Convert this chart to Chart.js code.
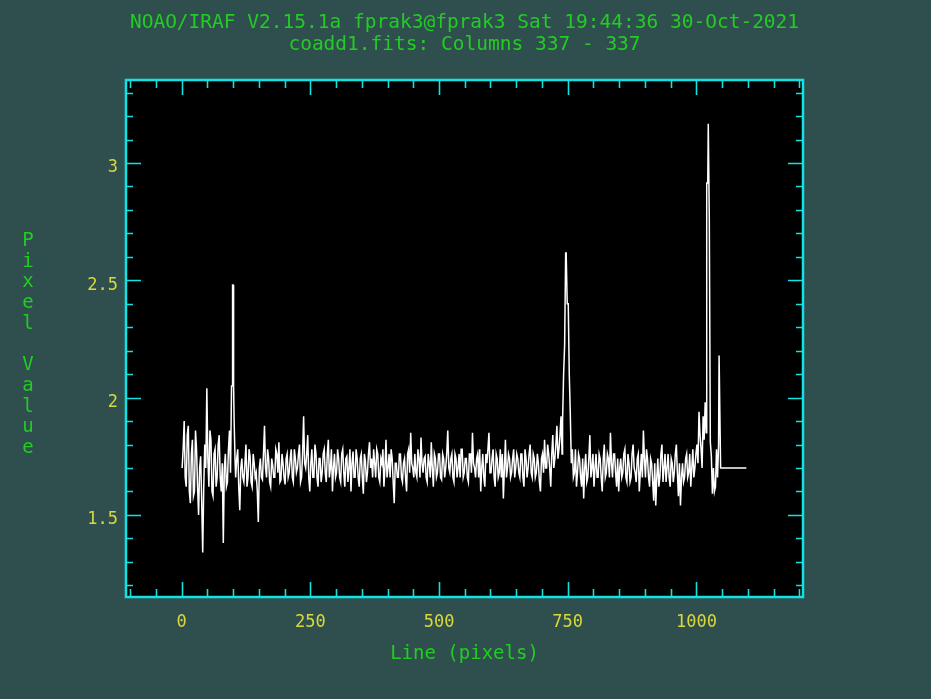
<!DOCTYPE html>
<html>
<head>
<meta charset="utf-8">
<script src="https://cdn.jsdelivr.net/npm/chart.js@4.4.0/dist/chart.umd.min.js"></script>
<style>
  html, body { margin: 0; padding: 0; background: #2f4f4f; overflow: hidden; }
  canvas { display: block; }
</style>
</head>
<body>
<canvas id="c" width="931" height="699"></canvas>
<script>
// ---- Data ----
const titleLines = ["NOAO/IRAF V2.15.1a fprak3@fprak3 Sat 19:44:36 30-Oct-2021", "coadd1.fits: Columns 337 - 337"];
const xAxisTitle = "Line (pixels)";
const yAxisTitle = "Pixel Value";

const xTickValues = [0, 250, 500, 750, 1000];
const xTickLabels = ["0", "250", "500", "750", "1000"];
const yTickValues = [1.5, 2, 2.5, 3];
const yTickLabels = ["1.5", "2", "2.5", "3"];

// samples A: line numbers 1, 5, 9, ... 1013
const linesAStart = 1;
// samples B: line numbers 3, 7, 11, ... 1015
const linesBStart = 3;
const lineStep = 4;

const valuesA = [
  1.70,1.90,1.62,1.88,1.55,1.82,1.60,1.78,1.50,1.75,
  1.34,1.80,2.04,1.62,1.82,1.58,1.78,1.66,1.84,1.60,
  1.38,1.76,1.64,1.86,1.70,1.70,1.66,1.78,1.52,1.74,
  1.64,1.80,1.66,1.75,1.62,1.72,1.68,1.47,1.74,1.65,
  1.88,1.66,1.74,1.62,1.71,1.66,1.76,1.81,1.65,1.72,
  1.63,1.76,1.68,1.78,1.64,1.74,1.70,1.80,1.66,1.92,
  1.70,1.84,1.60,1.78,1.66,1.76,1.62,1.74,1.68,1.78,
  1.64,1.82,1.70,1.60,1.76,1.68,1.74,1.64,1.78,1.62,
  1.75,1.70,1.60,1.77,1.66,1.74,1.62,1.76,1.59,1.73,
  1.68,1.81,1.74,1.78,1.66,1.76,1.64,1.72,1.62,1.82,
  1.70,1.66,1.74,1.55,1.72,1.66,1.76,1.64,1.74,1.60,
  1.78,1.85,1.70,1.76,1.66,1.74,1.83,1.68,1.75,1.64,
  1.72,1.81,1.62,1.74,1.68,1.76,1.65,1.74,1.70,1.86,
  1.68,1.76,1.64,1.74,1.70,1.66,1.78,1.68,1.74,1.64,
  1.76,1.85,1.70,1.74,1.66,1.60,1.76,1.62,1.72,1.85,
  1.68,1.78,1.62,1.74,1.68,1.66,1.57,1.82,1.70,1.74,
  1.68,1.78,1.70,1.74,1.66,1.76,1.62,1.74,1.70,1.80,
  1.66,1.74,1.68,1.72,1.60,1.76,1.82,1.70,1.76,1.62,
  1.84,1.74,1.88,1.78,1.92,1.86,2.00,2.00,1.90,1.70,
  1.66,1.78,1.68,1.74,1.62,1.57,1.76,1.66,1.84,1.70,
  1.62,1.76,1.66,1.74,1.60,1.80,1.68,1.74,1.85,1.66,
  1.76,1.62,1.60,1.74,1.68,1.78,1.64,1.72,1.66,1.80,
  1.68,1.74,1.60,1.76,1.86,1.66,1.74,1.62,1.72,1.56,
  1.54,1.74,1.66,1.80,1.70,1.64,1.76,1.62,1.72,1.68,
  1.80,1.58,1.54,1.72,1.66,1.76,1.68,1.62,1.78,1.70,
  1.80,1.94,1.78,1.92
];

const valuesB = [
  1.78,1.66,1.84,1.60,1.76,1.58,1.86,1.62,1.70,1.56,
  1.62,1.70,1.74,1.86,1.60,1.76,1.62,1.80,1.66,1.72,
  1.70,1.62,1.78,1.70,1.80,1.70,1.74,1.62,1.70,1.66,
  1.72,1.62,1.78,1.64,1.76,1.66,1.60,1.70,1.66,1.76,
  1.70,1.78,1.64,1.74,1.66,1.78,1.68,1.64,1.76,1.66,
  1.74,1.66,1.74,1.66,1.78,1.68,1.76,1.64,1.76,1.72,
  1.76,1.66,1.72,1.66,1.80,1.66,1.74,1.64,1.76,1.68,
  1.76,1.66,1.78,1.70,1.66,1.78,1.66,1.76,1.68,1.74,
  1.64,1.78,1.72,1.66,1.78,1.66,1.74,1.66,1.76,1.64,
  1.76,1.70,1.66,1.72,1.78,1.66,1.74,1.78,1.70,1.66,
  1.76,1.78,1.64,1.72,1.66,1.76,1.66,1.72,1.66,1.76,
  1.68,1.72,1.66,1.68,1.78,1.66,1.72,1.74,1.66,1.76,
  1.66,1.70,1.76,1.66,1.76,1.66,1.76,1.66,1.76,1.70,
  1.74,1.66,1.76,1.66,1.76,1.78,1.66,1.74,1.66,1.76,
  1.68,1.72,1.66,1.76,1.78,1.70,1.66,1.76,1.78,1.68,
  1.74,1.66,1.76,1.66,1.78,1.76,1.70,1.66,1.76,1.66,
  1.74,1.66,1.76,1.68,1.76,1.66,1.78,1.66,1.76,1.68,
  1.76,1.66,1.76,1.64,1.74,1.68,1.70,1.80,1.70,1.76,
  1.70,1.80,1.74,1.84,1.76,2.00,2.50,2.30,1.90,1.78,
  1.68,1.62,1.76,1.66,1.74,1.70,1.64,1.74,1.66,1.76,
  1.70,1.66,1.76,1.66,1.74,1.66,1.76,1.66,1.72,1.76,
  1.68,1.74,1.70,1.66,1.76,1.66,1.76,1.64,1.76,1.70,
  1.64,1.76,1.68,1.66,1.74,1.78,1.66,1.74,1.64,1.72,
  1.66,1.62,1.76,1.64,1.76,1.70,1.66,1.74,1.64,1.76,
  1.68,1.72,1.66,1.64,1.74,1.66,1.76,1.70,1.66,1.76,
  1.72,1.84,1.70,1.82
];

// emission features, sampled finer
const peak1Lines  = [95, 97, 98, 99, 100, 101, 102, 104];
const peak1Values = [1.68, 2.05, 2.05, 2.48, 2.48, 2.05, 1.90, 1.72];

const peak2Lines  = [740, 742, 744, 746, 747, 749, 751, 753, 755, 757];
const peak2Values = [1.90, 2.10, 2.225, 2.617, 2.617, 2.40, 2.40, 2.10, 1.93, 1.72];

const peak3Lines  = [1015, 1017, 1019, 1020, 1022, 1023, 1025, 1026, 1027, 1029, 1031, 1033, 1035, 1037, 1039, 1041, 1043, 1044, 1045, 1047, 1097];
const peak3Values = [1.82, 1.98, 1.85, 2.915, 2.915, 3.167, 2.758, 2.758, 1.81, 1.75, 1.59, 1.70, 1.60, 1.62, 1.78, 1.66, 1.80, 2.18, 2.18, 1.70, 1.70];

// ---- Build points ----
const peaks = [[peak1Lines, peak1Values], [peak2Lines, peak2Values], [peak3Lines, peak3Values]];
let points = valuesA.map((v, i) => ({ x: linesAStart + i * lineStep, y: v }))
  .concat(valuesB.map((v, i) => ({ x: linesBStart + i * lineStep, y: v })))
  .filter(p => !peaks.some(([ls]) => p.x >= ls[0] && p.x <= ls[ls.length - 1]));
peaks.forEach(([ls, vs]) => ls.forEach((l, i) => points.push({ x: l, y: vs[i] })));
points.sort((a, b) => a.x - b.x);

// ---- Style ----
const BG = '#2f4f4f';
const CYAN = '#12e2e2';
const GREEN = '#22cc22';
const YELLOW = '#d8d83c';
const MONO = '"DejaVu Sans Mono", "Liberation Mono", monospace';

const framePlugin = {
  id: 'irafFrame',
  beforeDraw(chart) {
    const { ctx, chartArea: a } = chart;
    ctx.save();
    ctx.fillStyle = BG;
    ctx.fillRect(0, 0, chart.width, chart.height);
    ctx.fillStyle = '#000000';
    ctx.fillRect(a.left, a.top, a.right - a.left, a.bottom - a.top);
    ctx.restore();
  },
  afterDraw(chart) {
    const { ctx, chartArea: a } = chart;
    const xs = chart.scales.x, ys = chart.scales.y;
    ctx.save();
    ctx.strokeStyle = CYAN;
    ctx.lineWidth = 1.6;
    ctx.beginPath();
    for (let v = -100; v <= 1200; v += 50) {
      const px = Math.round(xs.getPixelForValue(v)) + 0.5;
      const len = xTickValues.includes(v) ? 15 : 8;
      ctx.moveTo(px, a.bottom); ctx.lineTo(px, a.bottom - len);
      ctx.moveTo(px, a.top); ctx.lineTo(px, a.top + len);
    }
    for (let k = 12; k <= 33; k++) {
      const v = k / 10;
      const py = Math.round(ys.getPixelForValue(v)) + 0.5;
      const len = (k % 5 === 0) ? 15 : 7;
      ctx.moveTo(a.left, py); ctx.lineTo(a.left + len, py);
      ctx.moveTo(a.right, py); ctx.lineTo(a.right - len, py);
    }
    ctx.stroke();
    ctx.lineWidth = 2.5;
    ctx.strokeRect(a.left, a.top, a.right - a.left, a.bottom - a.top);

    ctx.fillStyle = GREEN;
    ctx.textAlign = 'center';
    ctx.textBaseline = 'middle';
    ctx.font = '19.5px ' + MONO;
    const cx = (a.left + a.right) / 2;
    ctx.fillText(titleLines[0], cx, 23);
    ctx.fillText(titleLines[1], cx, 45);
    ctx.font = '19px ' + MONO;
    ctx.fillText(xAxisTitle, cx, 654);
    const chars = yAxisTitle.split('');
    const cy = (a.top + a.bottom) / 2 + 6;
    chars.forEach((ch, i) => {
      ctx.fillText(ch, 28, cy + (i - (chars.length - 1) / 2) * 20.7);
    });
    ctx.restore();
  }
};

new Chart(document.getElementById('c'), {
  type: 'line',
  data: {
    datasets: [{
      data: points,
      borderColor: '#ffffff',
      borderWidth: 1.5,
      pointRadius: 0,
      tension: 0,
      fill: false
    }]
  },
  options: {
    responsive: false,
    animation: false,
    devicePixelRatio: 1,
    layout: { padding: { top: 80, left: 0, right: 128, bottom: 0 } },
    plugins: { legend: { display: false }, tooltip: { enabled: false }, title: { display: false } },
    scales: {
      x: {
        type: 'linear',
        min: -108,
        max: 1207,
        grid: { display: false, drawTicks: false },
        border: { display: false },
        afterFit(s) { s.height = 102; },
        afterBuildTicks(s) { s.ticks = xTickValues.map(v => ({ value: v })); },
        ticks: {
          color: YELLOW,
          font: { family: MONO, size: 17 },
          padding: 15,
          maxRotation: 0,
          autoSkip: false,
          callback: (v) => xTickLabels[xTickValues.indexOf(v)]
        }
      },
      y: {
        type: 'linear',
        min: 1.15,
        max: 3.354,
        grid: { display: false, drawTicks: false },
        border: { display: false },
        afterFit(s) { s.width = 126; },
        afterBuildTicks(s) { s.ticks = yTickValues.map(v => ({ value: v })); },
        ticks: {
          color: YELLOW,
          font: { family: MONO, size: 17 },
          padding: 8,
          labelOffset: 5,
          autoSkip: false,
          callback: (v) => yTickLabels[yTickValues.indexOf(v)]
        }
      }
    }
  },
  plugins: [framePlugin]
});
</script>
</body>
</html>
